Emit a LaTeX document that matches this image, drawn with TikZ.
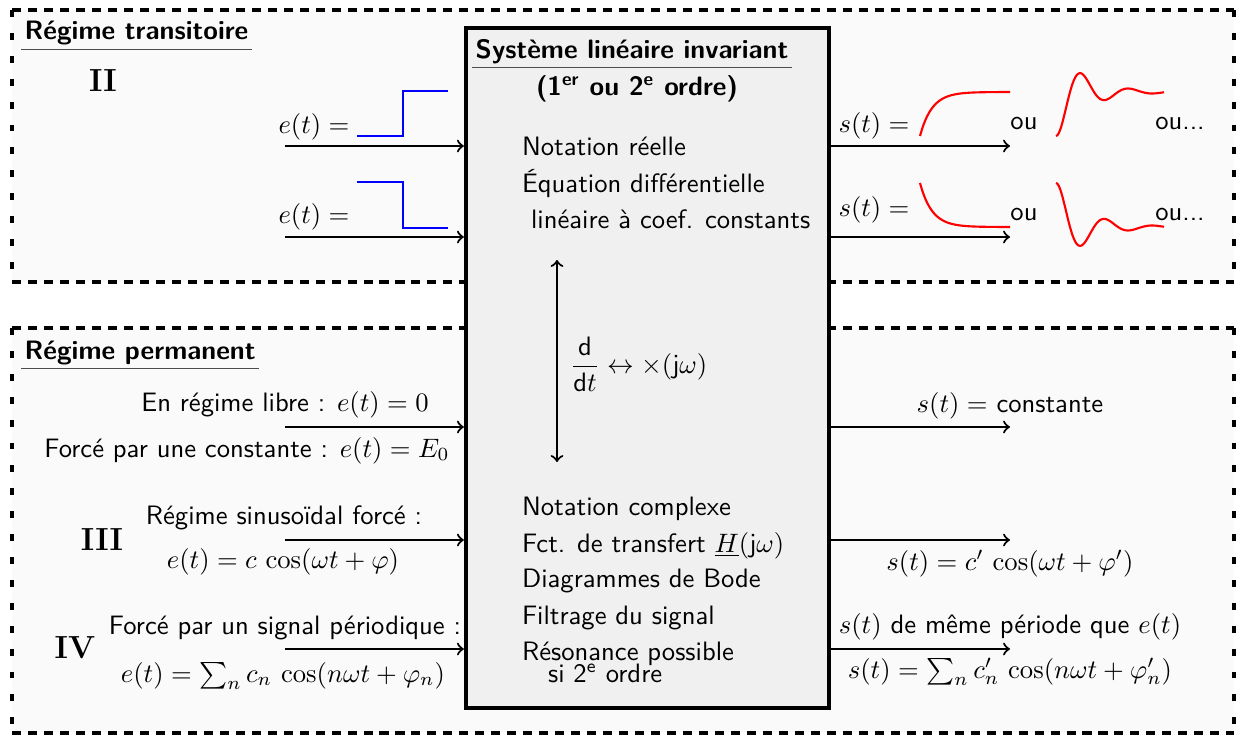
\documentclass[tikz,border=0pt]{standalone}
\usepackage{amsmath, amssymb}
\usepackage{tikz}
\renewcommand{\familydefault}{\sfdefault}
\newcommand{\pxu}{0.0132cm}

\begin{document}
\begin{tikzpicture}[x=\pxu, y=-\pxu, thick,
  sig/.style={thick, ->},
  hdash/.style={ultra thick, dash pattern=on 3.4pt off 2.6pt},
  vdash/.style={ultra thick, dash pattern=on 2.6pt off 6pt},
  zone/.style={fill=black!2},
  sysbox/.style={draw, ultra thick, fill=black!6, inner sep=0pt, minimum width=363*\pxu, minimum height=680*\pxu},
  head/.style={font=\bfseries, inner sep=1pt},
  txt/.style={anchor=base west, inner sep=0pt},
  lbl/.style={anchor=base, inner sep=0pt},
  roman/.style={font=\rmfamily\bfseries\large, anchor=base, inner sep=0pt},
  stepsig/.style={blue, thick},
  resp/.style={red, thick, smooth}]
  \useasboundingbox (0,0) rectangle (1236,736);

  \fill[zone] (12,10) rectangle (1234,282);
  \draw[hdash] (12,10) -- (1234,10) (12,282) -- (1234,282);
  \draw[vdash] (12,10) -- (12,282) (1234,10) -- (1234,282);
  \fill[zone] (12,328) rectangle (1234,733);
  \draw[hdash] (12,328) -- (1234,328) (12,733) -- (1234,733);
  \draw[vdash] (12,328) -- (12,733) (1234,328) -- (1234,733);

  \node[head, anchor=base west] (trans) at (21,40) {Régime transitoire};
  \draw[line width=0.5pt, black!70] (trans.south west) -- (trans.south east);
  \node[head, anchor=base west] (perm) at (21,359) {Régime permanent};
  \draw[line width=0.5pt, black!70] (perm.south west) -- (perm.south east);

  \node[sysbox] (sys) at (647.5,368) {};
  \node[head, anchor=base] (systit) at (632,58) {Système linéaire invariant};
  \draw[line width=0.5pt, black!70] (systit.south west) -- (systit.south east);
  \node[head, anchor=base] (ordre) at (637,95) {(1\textsuperscript{er} ou 2\textsuperscript{e} ordre)};

  \node[txt] (reel) at (521,155) {Notation réelle};
  \node[txt] (eqdiff) at (521,192) {Équation différentielle};
  \node[txt] (lin) at (530,228) {linéaire à coef. constants};
  \coordinate (du) at (557,260);
  \coordinate (dd) at (557,462);
  \draw[<->] (du) -- (dd);
  \node[anchor=west, inner sep=0pt] (deriv) at (569,364) {$\dfrac{\mathsf{d}}{\mathsf{d}t} \leftrightarrow \times(\mathsf{j}\omega)$};
  \node[txt] (cplx) at (521,515) {Notation complexe};
  \node[txt] (transf) at (521,552) {Fct. de transfert $\underline{H}(\mathsf{j}\omega)$};
  \node[txt] (bode) at (521,587) {Diagrammes de Bode};
  \node[txt] (filt) at (521,624) {Filtrage du signal};
  \node[txt] (reso) at (521,660) {Résonance possible};
  \node[txt] (reso2) at (547,682) {si 2\textsuperscript{e} ordre};

  \node[roman] (n2) at (103,92) {II};
  \node[roman] (n3) at (102,550) {III};
  \node[roman] (n4) at (75,658) {IV};

  \coordinate (e1) at (285,146);
  \coordinate (e2) at (285,237);
  \draw[sig] (e1) -- (e1 -| sys.west);
  \draw[sig] (e2) -- (e2 -| sys.west);
  \node[lbl] (e1l) at (314,133) {$e(t) =$};
  \node[lbl] (e2l) at (314,224) {$e(t) =$};
  \draw[stepsig] (357,136) -- (403,136) -- (403,91) -- (448,91);
  \draw[stepsig] (357,182) -- (403,182) -- (403,228) -- (448,228);

  \coordinate (s1) at (1010,146);
  \coordinate (s2) at (1010,237);
  \draw[sig] (s1 -| sys.east) -- (s1);
  \draw[sig] (s2 -| sys.east) -- (s2);
  \node[lbl] (s1l) at (874,132) {$s(t) =$};
  \node[lbl] (s2l) at (874,217) {$s(t) =$};
  \draw[resp] plot[domain=0:90, samples=50] ({920+\x},{136-44*(1-exp(-\x/12))});
  \draw[resp] plot[domain=0:108, samples=80] ({1056+\x},{136-44*(1-exp(-0.0352*\x)*(cos(7.5*\x)+0.269*sin(7.5*\x)))});
  \draw[resp] plot[domain=0:90, samples=50] ({920+\x},{183+44*(1-exp(-\x/12))});
  \draw[resp] plot[domain=0:108, samples=80] ({1056+\x},{183+44*(1-exp(-0.0352*\x)*(cos(7.5*\x)+0.269*sin(7.5*\x)))});
  \node[lbl] (ou1) at (1024,129) {ou};
  \node[lbl] (ou2) at (1024,220) {ou};
  \node[lbl] (ou3) at (1180,129) {ou...};
  \node[lbl] (ou4) at (1180,220) {ou...};

  \coordinate (e3) at (285,427);
  \coordinate (e4) at (285,540);
  \coordinate (e5) at (285,649);
  \draw[sig] (e3) -- (e3 -| sys.west);
  \draw[sig] (e4) -- (e4 -| sys.west);
  \draw[sig] (e5) -- (e5 -| sys.west);
  \node[lbl] (libre) at (285,411) {En régime libre : $e(t) = 0$};
  \node[lbl] (cst) at (247,457) {Forcé par une constante : $e(t) = E_0$};
  \node[lbl] (sinus) at (284,524) {Régime sinusoïdal forcé :};
  \node[lbl] (sinusf) at (283,568) {$e(t) = c\,\cos(\omega t + \varphi)$};
  \node[lbl] (period) at (285,634) {Forcé par un signal périodique :};
  \node[lbl] (periodf) at (283,682) {$e(t) = \sum_n c_n\,\cos(n\omega t + \varphi_n)$};

  \coordinate (s3) at (1010,427);
  \coordinate (s4) at (1010,540);
  \coordinate (s5) at (1010,649);
  \draw[sig] (s3 -| sys.east) -- (s3);
  \draw[sig] (s4 -| sys.east) -- (s4);
  \draw[sig] (s5 -| sys.east) -- (s5);
  \node[lbl] (scst) at (1010,412) {$s(t) =$ constante};
  \node[lbl] (ssinus) at (1010,570) {$s(t) = c'\,\cos(\omega t + \varphi')$};
  \node[lbl] (speriod) at (1010,633) {$s(t)$ de même période que $e(t)$};
  \node[lbl] (speriodf) at (1010,678) {$s(t) = \sum_n c'_n\,\cos(n\omega t + \varphi'_n)$};
\end{tikzpicture}
\end{document}
